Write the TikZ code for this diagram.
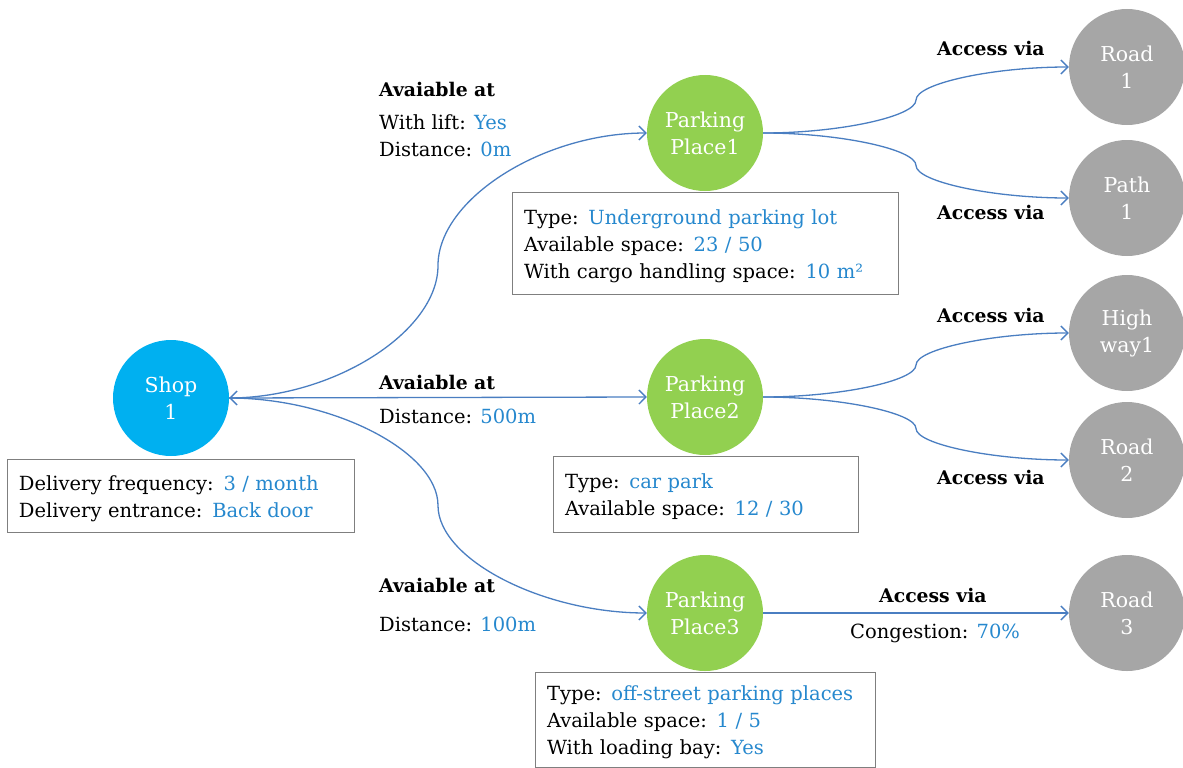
\documentclass[tikz,border=0pt]{standalone}
\usepackage{fontspec}
\setmainfont{DejaVu Serif}
\usetikzlibrary{arrows.meta}
\definecolor{shopblue}{RGB}{0,176,240}
\definecolor{ppgreen}{RGB}{146,208,80}
\definecolor{roadgray}{RGB}{166,166,166}
\definecolor{edgeblue}{RGB}{74,126,193}
\definecolor{valblue}{RGB}{38,136,206}
\definecolor{boxgray}{RGB}{127,127,127}
\newcommand{\val}[1]{\textcolor{valblue}{#1}}
\newcommand{\tstrut}{\rule{0pt}{21pt}}
\begin{document}
\begin{tikzpicture}[x=1pt,y=-1pt,
  every node/.style={font=\fontsize{19.5}{27}\selectfont},
  circ/.style={circle,minimum size=116pt,inner sep=0pt,text=white,align=center,font=\fontsize{20.5}{27}\selectfont},
  shopc/.style={circ,fill=shopblue},
  ppc/.style={circ,fill=ppgreen},
  rdc/.style={circ,fill=roadgray},
  infobox/.style={draw=boxgray,line width=1pt,fill=white,align=left,inner sep=0pt},
  lbl/.style={anchor=west,inner sep=0pt},
  blbl/.style={lbl,font=\fontsize{18.8}{27}\selectfont\bfseries},
  conn/.style={draw=edgeblue,line width=1.3pt,-{Straight Barb[length=7pt,width=14pt]}},
]
\useasboundingbox (0,0) rectangle (1183,768);

% nodes
\node[shopc] (shop) at (171,398) {Shop\\1};
\node[ppc] (pp1) at (705,133) {Parking\\Place1};
\node[ppc] (pp2) at (705,397) {Parking\\Place2};
\node[ppc] (pp3) at (705,613) {Parking\\Place3};
\node[rdc] (r1) at (1127,67) {Road\\1};
\node[rdc] (p1) at (1127,198) {Path\\1};
\node[rdc] (h1) at (1127,333) {High\\way1};
\node[rdc] (r2) at (1127,460) {Road\\2};
\node[rdc] (r3) at (1127,613) {Road\\3};

% info boxes
\node[infobox,minimum width=347pt,minimum height=73pt,text width=323pt] (shopbox) at (180.5,495.5)
  {\tstrut Delivery frequency: \val{3 / month}\\Delivery entrance: \val{Back door}};
\node[infobox,minimum width=386pt,minimum height=102pt,text width=362pt] (pp1box) at (705,243)
  {\tstrut Type: \val{Underground parking lot}\\Available space: \val{23 / 50}\\With cargo handling space: \val{10 m²}};
\node[infobox,minimum width=305pt,minimum height=76pt,text width=281pt] (pp2box) at (705.5,494)
  {\tstrut Type: \val{car park}\\Available space: \val{12 / 30}};
\node[infobox,minimum width=340pt,minimum height=95pt,text width=316pt] (pp3box) at (705,719.5)
  {\tstrut Type: \val{off-street parking places}\\Available space: \val{1 / 5}\\With loading bay: \val{Yes}};

% connectors shop -> parking
\draw[conn] (shop.east) .. controls (333.5,398) and (438,331.75) .. (438,265.5)
  .. controls (438,199.25) and (542.5,133) .. (pp1.west);
\draw[conn,{Straight Barb[length=7pt,width=14pt]}-{Straight Barb[length=7pt,width=14pt]}] (shop.east) -- (pp2.west);
\draw[conn] (shop.east) .. controls (333.5,398) and (438,451.75) .. (438,505.5)
  .. controls (438,559.25) and (542.5,613) .. (pp3.west);

% connectors parking -> roads
\draw[conn] (pp1.east) .. controls (839.5,133) and (916,116.5) .. (916,100)
  .. controls (916,83.5) and (992.5,67) .. (r1.west);
\draw[conn] (pp1.east) .. controls (839.5,133) and (916,149.25) .. (916,165.5)
  .. controls (916,181.75) and (992.5,198) .. (p1.west);
\draw[conn] (pp2.east) .. controls (839.5,397) and (916,381) .. (916,365)
  .. controls (916,349) and (992.5,333) .. (h1.west);
\draw[conn] (pp2.east) .. controls (839.5,397) and (916,412.75) .. (916,428.5)
  .. controls (916,444.25) and (992.5,460) .. (r2.west);
\draw[conn] (pp3.east) -- (r3.west);

% edge labels
\node[blbl] (l1a) at (379,89) {Avaiable at};
\node[lbl] (l1b) at (379,122) {With lift: \val{Yes}};
\node[lbl] (l1c) at (379,149) {Distance: \val{0m}};
\node[blbl] (l2a) at (379,382) {Avaiable at};
\node[lbl] (l2b) at (379,416) {Distance: \val{500m}};
\node[blbl] (l3a) at (379,585) {Avaiable at};
\node[lbl] (l3b) at (379,624) {Distance: \val{100m}};

\node[blbl] (a1) at (937,48) {Access via};
\node[blbl] (a2) at (937,212) {Access via};
\node[blbl] (a3) at (937,315) {Access via};
\node[blbl] (a4) at (937,477) {Access via};
\node[blbl] (a5) at (879,595) {Access via};
\node[lbl] (c5) at (850,633) {Congestion: \val{70\%}};
\end{tikzpicture}
\end{document}
